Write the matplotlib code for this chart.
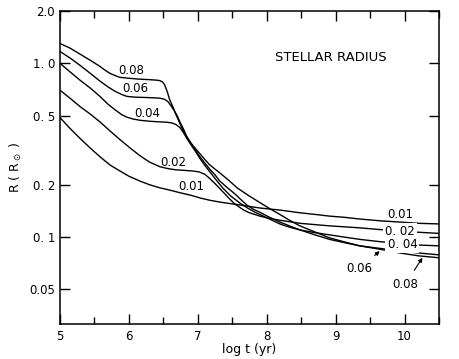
import matplotlib
matplotlib.use("Agg")

import matplotlib.pyplot as plt
from matplotlib.ticker import FixedLocator, FixedFormatter, MultipleLocator, NullLocator

# curves: log t (yr) and R (R_sun), one pair per mass
logt_008 = [5.0, 5.15, 5.29, 5.44, 5.58, 5.65, 5.725, 5.80, 5.87, 6.0, 6.16, 6.30, 6.40,
            6.45, 6.49, 6.52, 6.56, 6.59, 6.64, 6.68, 6.73, 6.78, 6.85, 6.93, 7.03, 7.10,
            7.17, 7.25, 7.32, 7.45, 7.57, 7.75, 7.90, 8.04, 8.19, 8.33, 8.48, 8.70, 8.91,
            9.12, 9.35, 9.65, 9.93, 10.2, 10.5]
r_008 = [1.30, 1.22, 1.13, 1.04, 0.96, 0.915, 0.875, 0.85, 0.83, 0.82, 0.81, 0.805, 0.80,
         0.795, 0.78, 0.75, 0.68, 0.62, 0.56, 0.51, 0.46, 0.415, 0.37, 0.336, 0.302, 0.28,
         0.261, 0.246, 0.234, 0.212, 0.192, 0.172, 0.158, 0.146, 0.135, 0.125, 0.116, 0.107,
         0.099, 0.094, 0.089, 0.085, 0.081, 0.078, 0.076]

logt_006 = [5.0, 5.15, 5.29, 5.44, 5.58, 5.70, 5.80, 5.90, 5.97, 6.10, 6.23, 6.35, 6.45,
            6.52, 6.57, 6.61, 6.65, 6.70, 6.74, 6.79, 6.84, 6.93, 7.03, 7.10, 7.17, 7.25,
            7.32, 7.43, 7.54, 7.62, 7.71, 7.80, 7.90, 8.04, 8.19, 8.33, 8.48, 8.70, 8.91,
            9.12, 9.35, 9.65, 9.93, 10.2, 10.5]
r_006 = [1.17, 1.07, 0.974, 0.875, 0.79, 0.73, 0.69, 0.66, 0.645, 0.638, 0.636, 0.633, 0.63,
         0.62, 0.60, 0.57, 0.54, 0.50, 0.46, 0.42, 0.38, 0.33, 0.29, 0.267, 0.247, 0.228,
         0.21, 0.192, 0.177, 0.165, 0.153, 0.145, 0.139, 0.130, 0.122, 0.116, 0.11, 0.103,
         0.097, 0.093, 0.089, 0.086, 0.083, 0.081, 0.079]

logt_004 = [5.0, 5.15, 5.29, 5.44, 5.58, 5.70, 5.80, 5.90, 5.97, 6.06, 6.16, 6.30, 6.45,
            6.55, 6.62, 6.68, 6.74, 6.79, 6.84, 6.90, 6.96, 7.04, 7.13, 7.24, 7.36, 7.48,
            7.61, 7.72, 7.83, 8.04, 8.19, 8.33, 8.48, 8.70, 8.91, 9.12, 9.35, 9.65, 9.93,
            10.2, 10.5]
r_004 = [1.0, 0.89, 0.80, 0.72, 0.645, 0.58, 0.54, 0.505, 0.49, 0.478, 0.47, 0.464, 0.46,
         0.458, 0.454, 0.445, 0.427, 0.40, 0.37, 0.34, 0.314, 0.28, 0.25, 0.22, 0.192, 0.172,
         0.157, 0.147, 0.139, 0.127, 0.119, 0.114, 0.11, 0.106, 0.103, 0.10, 0.097, 0.094,
         0.092, 0.090, 0.089]

logt_002 = [5.0, 5.145, 5.29, 5.44, 5.58, 5.72, 5.87, 6.02, 6.16, 6.30, 6.45, 6.56, 6.67,
            6.80, 6.93, 7.02, 7.10, 7.17, 7.25, 7.32, 7.40, 7.46, 7.53, 7.61, 7.68, 7.75,
            7.90, 8.04, 8.19, 8.48, 8.91, 9.35, 9.93, 10.5]
r_002 = [0.70, 0.63, 0.564, 0.51, 0.46, 0.41, 0.364, 0.325, 0.294, 0.27, 0.254, 0.248, 0.244,
         0.242, 0.24, 0.237, 0.23, 0.218, 0.203, 0.19, 0.176, 0.166, 0.156, 0.148, 0.142,
         0.138, 0.132, 0.128, 0.125, 0.12, 0.116, 0.113, 0.108, 0.105]

logt_001 = [5.0, 5.15, 5.29, 5.44, 5.58, 5.725, 5.87, 6.0, 6.16, 6.30, 6.45, 6.60, 6.74,
            6.90, 7.03, 7.17, 7.32, 7.46, 7.61, 7.75, 7.90, 8.04, 8.19, 8.48, 8.70, 8.91,
            9.12, 9.35, 9.65, 9.93, 10.2, 10.5]
r_001 = [0.487, 0.42, 0.37, 0.325, 0.29, 0.26, 0.24, 0.224, 0.21, 0.2, 0.192, 0.186, 0.18,
         0.174, 0.168, 0.163, 0.159, 0.156, 0.153, 0.15, 0.147, 0.145, 0.143, 0.138, 0.135,
         0.132, 0.13, 0.127, 0.124, 0.122, 0.12, 0.119]

y_ticks = [0.05, 0.1, 0.2, 0.5, 1.0, 2.0]
y_ticklabels = ["0.05", "0. 1", "0. 2", "0. 5", "1. 0", "2.0"]
x_ticks = [5, 6, 7, 8, 9, 10]

fig = plt.figure(figsize=(4.6, 3.59), dpi=100)
ax = fig.add_axes([0.1304, 0.0975, 0.8239, 0.8719])

for x, y in [(logt_008, r_008), (logt_006, r_006), (logt_004, r_004),
             (logt_002, r_002), (logt_001, r_001)]:
    ax.plot(x, y, color="black", linewidth=1.0, zorder=2)

ax.set_yscale("log")
ax.set_xlim(5, 10.5)
ax.set_ylim(0.0316, 2.0)

ax.yaxis.set_major_locator(FixedLocator(y_ticks))
ax.yaxis.set_major_formatter(FixedFormatter(y_ticklabels))
ax.yaxis.set_minor_locator(NullLocator())
ax.xaxis.set_major_locator(FixedLocator(x_ticks))
ax.xaxis.set_minor_locator(MultipleLocator(0.5))

ax.tick_params(which="both", direction="in", top=True, right=True, labelsize=8.5)
ax.tick_params(which="major", length=7, width=1.0)
ax.tick_params(which="minor", length=5, width=1.0)
ax.tick_params(axis="x", which="major", pad=4)
for s in ax.spines.values():
    s.set_linewidth(1.1)

ax.set_xlabel("log t (yr)", fontsize=9, labelpad=0)
ax.set_ylabel(r"R ( R$_\odot$ )", fontsize=9, labelpad=4)

ax.text(8.93, 1.08, "STELLAR RADIUS", fontsize=9.5, ha="center", va="center")

lab = dict(fontsize=8.5, ha="center", va="center", zorder=3)
ax.text(6.04, 0.911, "0.08", **lab)
ax.text(6.09, 0.717, "0.06", **lab)
ax.text(6.26, 0.514, "0.04", **lab)
ax.text(6.64, 0.268, "0.02", **lab)
ax.text(6.91, 0.1945, "0.01", **lab)

box = dict(facecolor="white", edgecolor="none", pad=1.5)
ax.text(9.94, 0.134, "0.01", **lab)
ax.text(9.93, 0.107, "0. 02", bbox=box, **lab)
ax.text(9.97, 0.091, "0. 04", bbox=box, **lab)

ax.annotate("0.06", xy=(9.64, 0.083), xytext=(9.35, 0.066), fontsize=8.5,
            ha="center", va="center",
            arrowprops=dict(arrowstyle="-|>", lw=0.8, color="black",
                            mutation_scale=6, shrinkA=4, shrinkB=0))
ax.annotate("0.08", xy=(10.26, 0.076), xytext=(10.01, 0.0535), fontsize=8.5,
            ha="center", va="center",
            arrowprops=dict(arrowstyle="-|>", lw=0.8, color="black",
                            mutation_scale=6, shrinkA=4, shrinkB=0))

fig.savefig("out.png", dpi=100)
